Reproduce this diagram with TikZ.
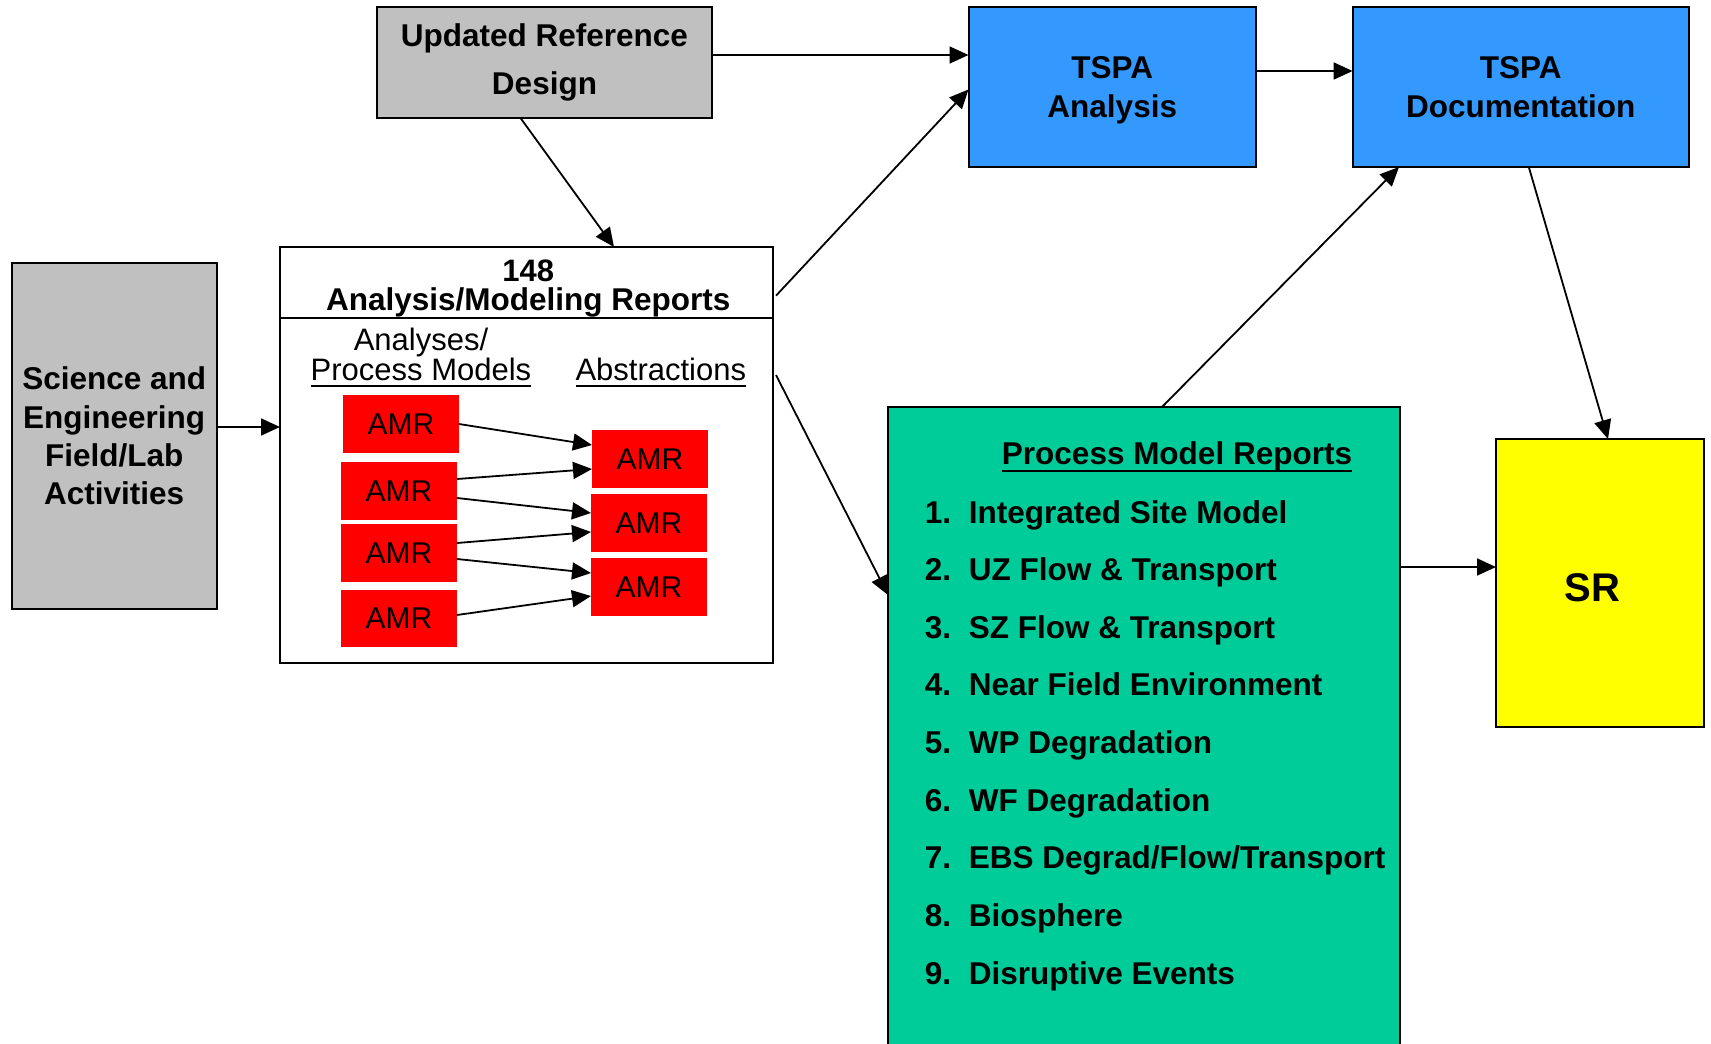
\documentclass[tikz,border=0pt]{standalone}
\usepackage{fontspec}
\setmainfont{Liberation Sans}
\usetikzlibrary{arrows.meta}
\definecolor{boxgray}{HTML}{C0C0C0}
\definecolor{tspablue}{HTML}{3399FF}
\definecolor{pmrgreen}{HTML}{00CC99}
\definecolor{sryellow}{HTML}{FFFF00}
\definecolor{amrred}{HTML}{FF0000}
% underlined text: #1 drop of rule, #2 thickness, #3 text
\newcommand\ulx[3]{\setbox0\hbox{#3}\rlap{\raisebox{-#1}{\rule{\wd0}{#2}}}\box0}
\tikzset{
  box/.style={draw=black, line width=2pt, inner sep=0pt, outer sep=0pt, align=center},
  amrnode/.style={fill=amrred, minimum width=116pt, minimum height=58pt, inner sep=0pt, outer sep=0pt,
                  font=\fontsize{30}{36}\selectfont},
  arr/.style={line width=1.8pt, -{Triangle[length=19pt,width=17pt]}},
  bigbold/.style={font=\fontsize{31.5}{38}\selectfont\bfseries},
  txt/.style={inner sep=0pt, outer sep=0pt},
  regtxt/.style={txt, font=\fontsize{31}{37}\selectfont},
}
\begin{document}
\begin{tikzpicture}[x=1pt, y=-1pt]
\useasboundingbox (0,0) rectangle (1711,1044);
\clip (0,0) rectangle (1711,1044);

% main boxes
\node[box, fill=boxgray, minimum width=335pt, minimum height=111pt,
      font=\fontsize{31.5}{47.7}\selectfont\bfseries] (urd) at (544.5,62.5)
      {Updated Reference\\Design};
\node[box, fill=tspablue, minimum width=287.5pt, minimum height=160pt,
      font=\fontsize{31.5}{38.8}\selectfont\bfseries] (tspaA) at (1112.25,87)
      {TSPA\\\raisebox{0pt}[\height][0pt]{Analysis}};
\node[box, fill=tspablue, minimum width=336.4pt, minimum height=160pt,
      font=\fontsize{31.5}{38.8}\selectfont\bfseries] (tspaD) at (1520.8,87) {TSPA\\Documentation};
\node[box, fill=boxgray, minimum width=205pt, minimum height=346pt,
      font=\fontsize{31.5}{38.2}\selectfont\bfseries] (sci) at (114.2,436)
      {Science and\\Engineering\\Field/Lab\\Activities};
\node[box, fill=white, minimum width=493pt, minimum height=416pt] (amrbox) at (526.5,455) {};
\draw[line width=2pt] ([yshift=-71pt]amrbox.north west) -- ([yshift=-71pt]amrbox.north east);
\node[box, fill=pmrgreen, minimum width=512pt, minimum height=650pt, anchor=north west] (pmr) at (888,407) {};
\node[box, fill=sryellow, minimum width=208pt, minimum height=288pt,
      font=\fontsize{40}{48}\selectfont\bfseries] (sr) at (1600,583)
      {\raisebox{-18pt}[0pt][0pt]{\makebox[0pt]{SR\hspace*{15pt}}}};

% texts in the AMR box
\node[txt, anchor=base, font=\fontsize{31}{37}\selectfont\bfseries] (n148) at (528.3,281.7) {148};
\node[txt, anchor=base, bigbold] (amrtitle) at (528.3,310.7) {Analysis/Modeling Reports};
\node[regtxt, anchor=base] (analyses) at (421,350) {Analyses/};
\node[regtxt, anchor=base] (procmod) at (421,380) {\ulx{6.7pt}{2pt}{Process Models}};
\node[regtxt, anchor=base] (abstr) at (660.8,380) {\ulx{6.7pt}{2pt}{Abstractions}};

% AMR boxes
\node[amrnode] (L1) at (401,424) {AMR};
\node[amrnode] (L2) at (399,491) {AMR};
\node[amrnode] (L3) at (399,553) {AMR};
\node[amrnode, minimum height=57pt] (L4) at (399,618.5) {AMR};
\node[amrnode] (R1) at (650,459) {AMR};
\node[amrnode] (R2) at (649,523) {AMR};
\node[amrnode] (R3) at (649,587) {AMR};

% AMR arrows
\draw[arr] (L1.east) -- ([yshift=14pt]R1.west);
\draw[arr] ([yshift=12pt]L2.east) -- ([yshift=-10pt]R1.west);
\draw[arr] ([yshift=-7pt]L2.east) -- ([yshift=10pt]R2.west);
\draw[arr] ([yshift=10pt]L3.east) -- ([yshift=-9pt]R2.west);
\draw[arr] ([yshift=-6pt]L3.east) -- ([yshift=14pt]R3.west);
\draw[arr] ([yshift=3.5pt]L4.east) -- ([yshift=-9pt]R3.west);

% Process model reports text
\node[txt, anchor=base, bigbold] (pmrtitle) at (1177,464) {\ulx{8pt}{2.5pt}{Process Model Reports}};
\foreach \i/\t in {1/{Integrated Site Model}, 2/{UZ Flow \& Transport}, 3/{SZ Flow \& Transport},
                   4/{Near Field Environment}, 5/{WP Degradation}, 6/{WF Degradation},
                   7/{EBS Degrad/Flow/Transport}, 8/{Biosphere}, 9/{Disruptive Events}}
  \node[txt, anchor=base west, bigbold] (item\i) at (924.8,{523+57.65*(\i-1)})
       {\makebox[44pt][l]{\i.}\t};

% connectors
\draw[arr] ([yshift=7.5pt]urd.east) -- ([yshift=32pt]tspaA.west);
\draw[arr] ([xshift=-24pt]urd.south) -- ([xshift=87.5pt]amrbox.north);
\draw[arr] ([xshift=3pt,yshift=159.3pt]amrbox.east) -- ([yshift=-2.5pt]tspaA.west);
\draw[arr] ([xshift=3pt,yshift=80pt]amrbox.east) -- ([yshift=-188pt]pmr.north west);
\draw[arr] ([yshift=9pt]sci.east) -- ([yshift=9pt]sci.east -| amrbox.west);
\draw[arr] ([yshift=16pt]tspaA.east) -- ([yshift=16pt]tspaD.west);
\draw[arr] ([xshift=18pt]pmr.north) -- ([xshift=-121.8pt]tspaD.south);
\draw[arr] ([xshift=8pt]tspaD.south) -- ([xshift=8pt]sr.north);
\draw[arr] ([yshift=-160pt]pmr.north east) -- ([yshift=16pt]sr.west);
\end{tikzpicture}
\end{document}
